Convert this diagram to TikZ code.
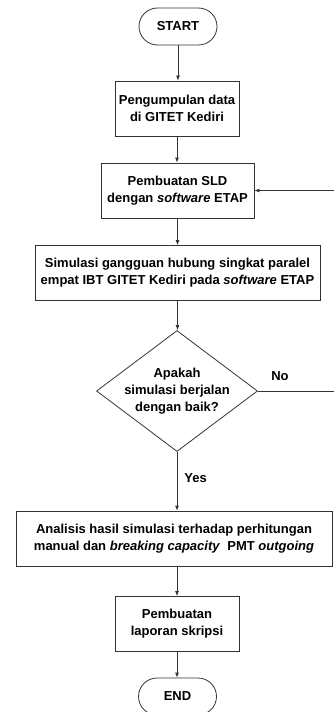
\documentclass[tikz,border=0pt]{standalone}
\usepackage{fontspec}
\setmainfont{Liberation Sans}
\usepackage{tikz}
\usetikzlibrary{shapes.geometric}
\usetikzlibrary{shapes.misc}
\usetikzlibrary{arrows.meta}
\usetikzlibrary{positioning}
\begin{document}
\begin{tikzpicture}[
  x=1pt, y=-1pt,
  every node/.style={font=\fontsize{13}{17}\selectfont\bfseries, align=center, inner sep=0pt},
  terminal/.style={rounded rectangle, draw=black!80, line width=0.8pt, minimum width=78pt, minimum height=37pt},
  process/.style={rectangle, draw=black!80, line width=0.8pt, minimum height=55pt},
  decision/.style={diamond, draw=black!80, line width=0.8pt, inner xsep=-6pt, inner ysep=-5pt, aspect=1.33, minimum width=161pt, minimum height=121pt},
  arrow/.style={draw=black!80, line width=0.8pt, -{Latex[length=5pt,width=4pt]}},
  tag/.style={font=\fontsize{13}{15}\selectfont\bfseries}
]
\useasboundingbox (0,0) rectangle (333,712);
\node[terminal] (start) at (178,26.5) {START};
\node[process, minimum width=124pt] (data) at (177,108.5) {Pengumpulan data\\di GITET Kediri};
\node[process, minimum width=153pt] (sld) at (177.5,190.5) {Pembuatan SLD\\dengan \textit{software} ETAP};
\node[process, minimum width=285pt] (sim) at (177.5,273) {Simulasi gangguan hubung singkat paralel\\empat IBT GITET Kediri pada \textit{software} ETAP};
\node[decision] (cek) at (177,391) {Apakah\\simulasi berjalan\\dengan baik?};
\node[process, minimum width=316pt] (anl) at (174,538.5) {Analisis hasil simulasi terhadap perhitungan\\manual dan \textit{breaking capacity}\ \ PMT \textit{outgoing}};
\node[process, minimum width=124pt] (lap) at (177,624) {Pembuatan\\laporan skripsi};
\node[terminal] (end) at (177.5,696.5) {END};
\coordinate (back) at (334,391);
% main flow
\draw[arrow] (start.south) -- (start.south |- data.north);
\draw[arrow] (data.south) -- (data.south |- sld.north);
\draw[arrow] (sld.south) -- (sld.south |- sim.north);
\draw[arrow] (sim.south) -- (sim.south |- cek.north);
\draw[arrow] (cek.south) -- (cek.south |- anl.north) node[tag, pos=0.45, right=7pt] (yes) {Yes};
\draw[arrow] (anl.south -| lap.north) -- (lap.north);
\draw[arrow] (lap.south) -- (lap.south |- end.north);
% loop back
\draw[arrow] (cek.east) -- (back) |- (sld.east);
\node[tag] (no) at (280,376) {No};
\end{tikzpicture}
\end{document}
